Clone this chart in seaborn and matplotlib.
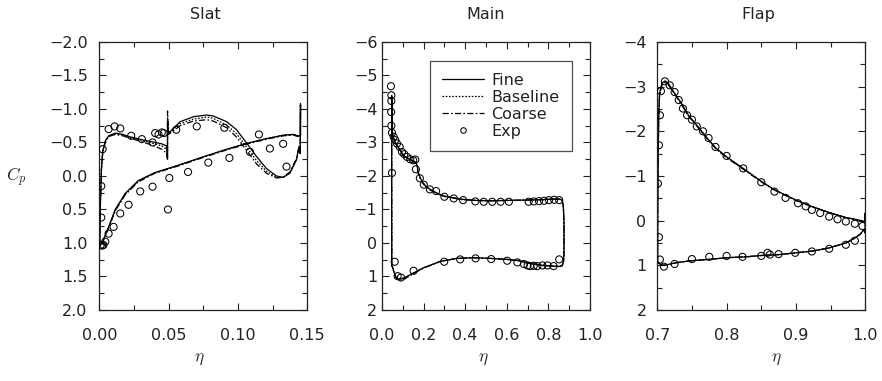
import numpy as np
import pandas as pd
import matplotlib
matplotlib.use("Agg")
import matplotlib.pyplot as plt
import seaborn as sns
from matplotlib.lines import Line2D
from matplotlib.ticker import MultipleLocator, FuncFormatter

# ---------------- data ----------------
models = ["Fine", "Baseline", "Coarse"]
panel_titles = ["Slat", "Main", "Flap"]

# Slat (path: LE -> upper -> cove spike -> S-curve -> TE spike -> lower -> LE)
slat_x = [0.0003, 0.0008, 0.0015, 0.0025, 0.0045, 0.0067, 0.0115, 0.0170, 0.0210, 0.0310, 0.0380, 0.0450, 0.0485,
          0.0490, 0.0492, 0.0492,
          0.0500, 0.0583, 0.0679, 0.0775, 0.0822, 0.0919, 0.0990, 0.1063, 0.1134, 0.1206, 0.1278, 0.1326, 0.1374, 0.1422, 0.1441,
          0.1449, 0.1451, 0.1451,
          0.1430, 0.1400, 0.1330, 0.1210, 0.1070, 0.0920, 0.0740, 0.0570, 0.0400, 0.0280, 0.0187, 0.0115, 0.0067, 0.0020, 0.0002]
slat_fine = [1.04, 0.40, -0.10, -0.38, -0.53, -0.60, -0.64, -0.62, -0.59, -0.54, -0.51, -0.48, -0.45,
             -0.30, -0.26, -0.79,
             -0.64, -0.81, -0.885, -0.91, -0.895, -0.81, -0.69, -0.49, -0.29, -0.11, 0.00, 0.02, -0.04, -0.24, -0.44,
             -0.34, -1.06, -0.60,
             -0.60, -0.62, -0.61, -0.56, -0.49, -0.40, -0.28, -0.16, -0.05, 0.07, 0.26, 0.50, 0.76, 1.00, 1.05]
slat_base = [1.04, 0.40, -0.10, -0.37, -0.52, -0.59, -0.63, -0.61, -0.58, -0.53, -0.49, -0.45, -0.40,
             -0.28, -0.26, -0.86,
             -0.64, -0.78, -0.85, -0.88, -0.86, -0.76, -0.63, -0.43, -0.23, -0.07, 0.02, 0.02, -0.05, -0.25, -0.44,
             -0.34, -1.04, -0.60,
             -0.60, -0.62, -0.61, -0.56, -0.49, -0.40, -0.28, -0.16, -0.05, 0.08, 0.27, 0.51, 0.77, 1.00, 1.05]
slat_coarse = [1.04, 0.42, -0.08, -0.36, -0.52, -0.59, -0.62, -0.60, -0.57, -0.51, -0.46, -0.40, -0.34,
               -0.27, -0.25, -0.97,
               -0.62, -0.75, -0.82, -0.84, -0.82, -0.72, -0.58, -0.38, -0.18, -0.04, 0.03, 0.02, -0.06, -0.26, -0.45,
               -0.34, -1.08, -0.60,
               -0.59, -0.61, -0.60, -0.55, -0.48, -0.39, -0.27, -0.15, -0.04, 0.09, 0.28, 0.52, 0.78, 1.01, 1.05]
slat_exp_x = [0.0010, 0.0014, 0.0014, 0.0024, 0.0067, 0.0110, 0.0151, 0.0230, 0.0307, 0.0384, 0.0403, 0.0427, 0.0451,
              0.0465, 0.0555, 0.0703, 0.0902, 0.1151, 0.1086, 0.1230, 0.1326, 0.1350, 0.0938, 0.0786, 0.0640, 0.0505,
              0.0495, 0.0384, 0.0295, 0.0211, 0.0151, 0.0103, 0.0067, 0.0043, 0.0030, 0.0020]
slat_exp_cp = [1.03, 0.62, 0.15, -0.40, -0.70, -0.74, -0.71, -0.60, -0.55, -0.50, -0.64, -0.62, -0.65,
               -0.64, -0.69, -0.74, -0.72, -0.62, -0.36, -0.41, -0.48, -0.14, -0.27, -0.20, -0.06, 0.03,
               0.50, 0.16, 0.23, 0.43, 0.56, 0.76, 0.86, 0.98, 1.03, 1.04]

# Main element
main_x = [0.0470, 0.0465, 0.0470, 0.0480, 0.0530, 0.0650, 0.0770, 0.0950, 0.1100, 0.1400, 0.1580, 0.1680, 0.1740,
          0.1850, 0.1980, 0.2150, 0.2370, 0.2700, 0.3000, 0.3800, 0.4500, 0.5200, 0.6000, 0.6800, 0.7600, 0.8200,
          0.8550, 0.8660, 0.8720, 0.8750, 0.8750, 0.8730, 0.8660, 0.8550, 0.8200, 0.7600, 0.7000, 0.6600, 0.6000,
          0.5200, 0.4400, 0.3600, 0.2800, 0.2000, 0.1500, 0.1100, 0.0920, 0.0780, 0.0680, 0.0580, 0.0500]
main_fine = [0.70, -2.00, -4.40, -3.40, -3.18, -3.00, -2.87, -2.70, -2.58, -2.48, -2.43, -2.34, -2.12,
             -1.93, -1.79, -1.67, -1.58, -1.47, -1.40, -1.31, -1.27, -1.26, -1.27, -1.28, -1.29, -1.31,
             -1.31, -1.28, -1.10, -0.60, 0.30, 0.55, 0.68, 0.70, 0.69, 0.66, 0.60, 0.53, 0.49,
             0.46, 0.44, 0.46, 0.55, 0.74, 0.90, 1.03, 1.07, 1.07, 1.02, 0.88, 0.70]
main_base = [0.70, -2.00, -4.35, -3.40, -3.17, -2.99, -2.86, -2.69, -2.57, -2.47, -2.42, -2.33, -2.11,
             -1.92, -1.78, -1.66, -1.57, -1.46, -1.39, -1.30, -1.27, -1.26, -1.27, -1.28, -1.29, -1.31,
             -1.31, -1.28, -1.10, -0.60, 0.30, 0.55, 0.68, 0.70, 0.69, 0.66, 0.60, 0.53, 0.49,
             0.46, 0.44, 0.46, 0.55, 0.74, 0.90, 1.04, 1.08, 1.08, 1.03, 0.89, 0.70]
main_coarse = [0.70, -2.00, -4.30, -3.40, -3.15, -2.97, -2.85, -2.68, -2.56, -2.46, -2.41, -2.31, -2.08,
               -1.90, -1.77, -1.65, -1.56, -1.46, -1.39, -1.30, -1.27, -1.26, -1.27, -1.28, -1.29, -1.31,
               -1.31, -1.28, -1.10, -0.60, 0.30, 0.55, 0.68, 0.70, 0.69, 0.66, 0.60, 0.53, 0.49,
               0.46, 0.44, 0.46, 0.55, 0.75, 0.92, 1.07, 1.11, 1.10, 1.05, 0.90, 0.70]
main_exp_x = [0.043, 0.045, 0.045, 0.044, 0.045, 0.048, 0.048, 0.056, 0.064, 0.072, 0.085, 0.096, 0.107, 0.120,
              0.136, 0.150, 0.160, 0.163, 0.182, 0.201, 0.230, 0.260, 0.300, 0.345, 0.390, 0.449, 0.489, 0.530,
              0.570, 0.610, 0.705, 0.730, 0.755, 0.779, 0.803, 0.828, 0.852,
              0.061, 0.075, 0.091, 0.152, 0.299, 0.376, 0.450, 0.525, 0.602, 0.651, 0.683, 0.700, 0.712, 0.730,
              0.747, 0.771, 0.796, 0.825, 0.852]
main_exp_cp = [-4.68, -4.41, -4.24, -3.91, -3.50, -3.29, -2.09, -3.17, -3.07, -2.97, -2.87, -2.72, -2.65, -2.57,
               -2.50, -2.47, -2.49, -2.20, -1.93, -1.74, -1.60, -1.55, -1.38, -1.33, -1.28, -1.24, -1.23, -1.23,
               -1.23, -1.23, -1.23, -1.24, -1.25, -1.26, -1.28, -1.29, -1.28,
               0.56, 0.99, 1.03, 0.83, 0.56, 0.49, 0.46, 0.48, 0.53, 0.58, 0.63, 0.67, 0.69, 0.68,
               0.69, 0.67, 0.67, 0.69, 0.49]

# Flap
flap_x = [0.7005, 0.7006, 0.7010, 0.7020, 0.7033, 0.7067, 0.7114, 0.7160, 0.7230, 0.7350, 0.7450, 0.7590, 0.7720,
          0.7850, 0.8000, 0.8240, 0.8500, 0.8660, 0.8760, 0.9000, 0.9140, 0.9240, 0.9480, 0.9720, 0.9910, 0.9990,
          1.0000, 1.0000, 0.9980, 0.9930, 0.9850, 0.9720, 0.9610, 0.9480, 0.9240, 0.9000, 0.8760, 0.8500, 0.8280,
          0.8000, 0.7800, 0.7470, 0.7280, 0.7160, 0.7100, 0.7060, 0.7030, 0.7015, 0.7005]
flap_fine = [0.95, 0.00, -1.00, -2.30, -2.85, -3.08, -3.13, -3.07, -2.90, -2.62, -2.36, -2.10, -1.85,
             -1.62, -1.43, -1.17, -0.88, -0.72, -0.64, -0.46, -0.37, -0.31, -0.18, -0.07, -0.01, 0.02,
             -0.17, 0.28, 0.20, 0.30, 0.39, 0.50, 0.55, 0.61, 0.68, 0.72, 0.76, 0.78, 0.81,
             0.83, 0.86, 0.90, 0.94, 0.98, 1.00, 0.99, 0.96, 0.93, 0.95]
flap_base = [0.95, 0.00, -1.00, -2.28, -2.83, -3.06, -3.11, -3.06, -2.89, -2.61, -2.35, -2.09, -1.84,
             -1.61, -1.42, -1.16, -0.88, -0.72, -0.64, -0.46, -0.37, -0.31, -0.18, -0.07, -0.01, 0.02,
             -0.17, 0.28, 0.20, 0.30, 0.39, 0.50, 0.55, 0.61, 0.68, 0.72, 0.76, 0.78, 0.81,
             0.83, 0.86, 0.90, 0.94, 0.98, 1.00, 0.99, 0.96, 0.93, 0.95]
flap_coarse = [0.95, 0.00, -1.00, -2.25, -2.80, -3.03, -3.09, -3.04, -2.88, -2.60, -2.34, -2.08, -1.83,
               -1.60, -1.41, -1.15, -0.87, -0.71, -0.63, -0.45, -0.37, -0.31, -0.18, -0.07, -0.01, 0.02,
               -0.17, 0.28, 0.20, 0.30, 0.39, 0.50, 0.55, 0.61, 0.68, 0.72, 0.76, 0.78, 0.81,
               0.83, 0.86, 0.90, 0.94, 0.98, 1.00, 0.99, 0.96, 0.93, 0.95]
flap_exp_x = [0.7010, 0.7024, 0.7038, 0.7053, 0.7110, 0.7180, 0.7250, 0.7310, 0.7370, 0.7430, 0.7500, 0.7570,
              0.7660, 0.7740, 0.7840, 0.8000, 0.8240, 0.8500, 0.8690, 0.8850, 0.9030, 0.9140, 0.9230, 0.9350,
              0.9480, 0.9600, 0.9720, 0.9850, 0.9960,
              0.7024, 0.7038, 0.7096, 0.7250, 0.7500, 0.7750, 0.8000, 0.8230, 0.8500, 0.8590, 0.8625, 0.8750,
              0.8990, 0.9230, 0.9480, 0.9720, 0.9850]
flap_exp_cp = [-0.83, -1.69, -2.36, -2.90, -3.12, -3.03, -2.88, -2.70, -2.51, -2.36, -2.26, -2.11,
               -2.00, -1.85, -1.65, -1.45, -1.17, -0.86, -0.65, -0.51, -0.39, -0.32, -0.24, -0.17,
               -0.09, -0.03, 0.02, 0.07, 0.12,
               0.37, 0.87, 1.03, 0.97, 0.86, 0.81, 0.79, 0.81, 0.79, 0.72, 0.76, 0.75,
               0.72, 0.69, 0.63, 0.54, 0.45]

# ---------------- style ----------------
sns.set_style("ticks")
plt.rcParams["font.family"] = ["DejaVu Sans"]
plt.rcParams["mathtext.fontset"] = "cm"
plt.rcParams["axes.unicode_minus"] = True

FS = 11.5
INK = "#222222"
dash_map = {"Fine": "", "Baseline": (1.3, 1.3), "Coarse": (5, 1.8, 1.3, 1.8)}


def make_fmt(fmt):
    def f(v, pos):
        s = fmt % (0.0 if abs(v) < 1e-12 else v)
        return s.replace("-", "\u2212")
    return FuncFormatter(f)


fig = plt.figure(figsize=(8.82, 3.81), dpi=100)
W, H, B = 0.2358, 0.7034, 0.1864
lefts = [0.1126, 0.4331, 0.7452]

panels = [
    dict(x=slat_x, lines=[slat_fine, slat_base, slat_coarse], ex=slat_exp_x, ey=slat_exp_cp,
         xlim=(0, 0.15), ylim=(2, -2), xmaj=0.05, xmin=0.025, ymaj=0.5, ymin=0.25,
         xfmt="%.2f", yfmt="%.1f", ypad=8.4, eta_x=0.479, title_x=0.508),
    dict(x=main_x, lines=[main_fine, main_base, main_coarse], ex=main_exp_x, ey=main_exp_cp,
         xlim=(0, 1.0), ylim=(2, -6), xmaj=0.2, xmin=0.1, ymaj=1, ymin=0.5,
         xfmt="%.1f", yfmt="%d", ypad=3.4, eta_x=0.489, title_x=0.50),
    dict(x=flap_x, lines=[flap_fine, flap_base, flap_coarse], ex=flap_exp_x, ey=flap_exp_cp,
         xlim=(0.7, 1.0), ylim=(2, -4), xmaj=0.1, xmin=0.05, ymaj=1, ymin=0.5,
         xfmt="%.1f", yfmt="%d", ypad=7.7, eta_x=0.573, title_x=0.488),
]

for i, p in enumerate(panels):
    ax = fig.add_axes([lefts[i], B, W, H])
    frames = []
    for m, cp in zip(models, p["lines"]):
        frames.append(pd.DataFrame({"eta": p["x"], "Cp": cp, "Model": m}))
    df = pd.concat(frames, ignore_index=True)
    sns.lineplot(data=df, x="eta", y="Cp", style="Model", dashes=dash_map, color="black",
                 sort=False, estimator=None, linewidth=0.9, legend=False, ax=ax)
    sns.scatterplot(x=p["ex"], y=p["ey"], ax=ax, marker="o", s=26, facecolors="none",
                    edgecolor="black", linewidth=0.75, legend=False, zorder=3)
    ax.set_xlim(*p["xlim"])
    ax.set_ylim(*p["ylim"])
    ax.xaxis.set_major_locator(MultipleLocator(p["xmaj"]))
    ax.xaxis.set_minor_locator(MultipleLocator(p["xmin"]))
    ax.yaxis.set_major_locator(MultipleLocator(p["ymaj"]))
    ax.yaxis.set_minor_locator(MultipleLocator(p["ymin"]))
    ax.xaxis.set_major_formatter(make_fmt(p["xfmt"]))
    ax.yaxis.set_major_formatter(make_fmt(p["yfmt"]))
    ax.tick_params(which="both", direction="in", top=True, right=True, color=INK, width=0.8,
                   labelsize=FS, labelcolor=INK)
    ax.tick_params(which="major", length=5)
    ax.tick_params(which="minor", length=3.5)
    ax.tick_params(axis="x", which="major", pad=13)
    ax.tick_params(axis="y", which="major", pad=p["ypad"])
    for s in ax.spines.values():
        s.set_color(INK)
        s.set_linewidth(0.9)
    ax.set_title(panel_titles[i], fontsize=FS, color=INK, pad=16.3, x=p["title_x"])
    ax.set_xlabel(r"$\eta$", fontsize=FS + 1, color=INK)
    ax.xaxis.label.set_va("center")
    ax.xaxis.set_label_coords(p["eta_x"], -0.178)
    if i == 0:
        ax.set_ylabel(r"$C_p$", fontsize=FS + 1, color=INK, rotation=0, va="center", ha="center")
        ax.yaxis.set_label_coords(-0.398, 0.494)
    else:
        ax.set_ylabel("")
    if i == 1:
        handles = [
            Line2D([], [], color="black", lw=0.9, linestyle="-"),
            Line2D([], [], color="black", lw=0.9, linestyle=(0, (1.3, 1.3))),
            Line2D([], [], color="black", lw=0.9, linestyle=(0, (5, 1.8, 1.3, 1.8))),
            Line2D([], [], color="black", lw=0, marker="o", markersize=4,
                   markerfacecolor="none", markeredgewidth=0.75),
        ]
        leg = ax.legend(handles, ["Fine", "Baseline", "Coarse", "Exp"], loc="upper right",
                        bbox_to_anchor=(0.912, 0.929), borderaxespad=0, fontsize=FS,
                        frameon=True, fancybox=False, handlelength=2.6, handletextpad=0.5,
                        labelspacing=0.12, borderpad=0.75)
        leg.get_frame().set_edgecolor(INK)
        leg.get_frame().set_linewidth(0.9)
        for t in leg.get_texts():
            t.set_color(INK)

fig.savefig("out.png", dpi=100)
